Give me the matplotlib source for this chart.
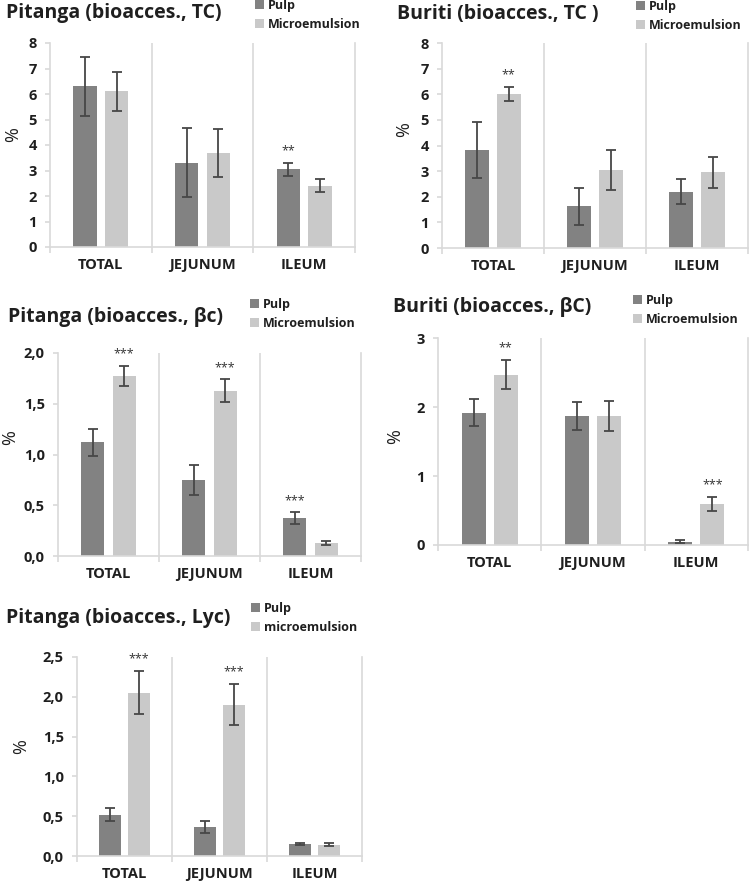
import matplotlib
import numpy as np

matplotlib.use("Agg")
import matplotlib.pyplot as plt  # noqa: E402
from matplotlib.ticker import FuncFormatter, MultipleLocator  # noqa: E402

plt.rcParams["font.family"] = ["Open Sans", "DejaVu Sans"]
plt.rcParams["font.weight"] = "bold"

categories = ["TOTAL", "JEJUNUM", "ILEUM"]

# Pitanga, total carotenoids
pit_tc_pulp = [6.3, 3.3, 3.05]
pit_tc_pulp_err = [1.17, 1.35, 0.25]
pit_tc_micro = [6.1, 3.68, 2.4]
pit_tc_micro_err = [0.75, 0.95, 0.25]
pit_tc_stars_pulp = ["", "", "**"]
pit_tc_stars_micro = ["", "", ""]

# Buriti, total carotenoids
bur_tc_pulp = [3.82, 1.62, 2.2]
bur_tc_pulp_err = [1.09, 0.74, 0.49]
bur_tc_micro = [6.0, 3.05, 2.95]
bur_tc_micro_err = [0.27, 0.77, 0.6]
bur_tc_stars_pulp = ["", "", ""]
bur_tc_stars_micro = ["**", "", ""]

# Pitanga, beta-carotene
pit_bc_pulp = [1.12, 0.75, 0.375]
pit_bc_pulp_err = [0.13, 0.15, 0.055]
pit_bc_micro = [1.77, 1.63, 0.13]
pit_bc_micro_err = [0.10, 0.11, 0.02]
pit_bc_stars_pulp = ["", "", "***"]
pit_bc_stars_micro = ["***", "***", ""]

# Buriti, beta-carotene
bur_bc_pulp = [1.92, 1.87, 0.05]
bur_bc_pulp_err = [0.2, 0.2, 0.02]
bur_bc_micro = [2.47, 1.87, 0.6]
bur_bc_micro_err = [0.21, 0.22, 0.1]
bur_bc_stars_pulp = ["", "", ""]
bur_bc_stars_micro = ["**", "", "***"]

# Pitanga, lycopene
pit_lyc_pulp = [0.52, 0.37, 0.15]
pit_lyc_pulp_err = [0.085, 0.075, 0.01]
pit_lyc_micro = [2.05, 1.9, 0.14]
pit_lyc_micro_err = [0.27, 0.26, 0.02]
pit_lyc_stars_pulp = ["", "", ""]
pit_lyc_stars_micro = ["***", "***", ""]

FARBE_PULP = "#828282"
FARBE_MICRO = "#c9c9c9"
FARBE_FEHLER = "#474747"
FARBE_LINIE = "#d9d9d9"
FARBE_TEXT = "#1f1f1f"

B, H = 750, 883
fig = plt.figure(figsize=(B / 100, H / 100), dpi=100)


def komma(wert, _pos):
    return f"{wert:.1f}".replace(".", ",")


def panel(box, titel, titel_xy, leg_xy, leg_micro, ylabel_xy,
          pulp, pulp_err, micro, micro_err, stars_p, stars_m,
          ymax, schritt, dezimal):
    x0, y0, x1, y1 = box
    ax = fig.add_axes([x0 / B, 1 - y1 / H, (x1 - x0) / B, (y1 - y0) / H])
    x = np.arange(len(categories))
    breite, versatz = 0.23, 0.155
    fehler = dict(ecolor=FARBE_FEHLER, elinewidth=1.3, capsize=3.5, capthick=1.3)
    bp = ax.bar(x - versatz, pulp, breite, yerr=pulp_err, color=FARBE_PULP,
                error_kw=fehler, label="Pulp")
    bm = ax.bar(x + versatz, micro, breite, yerr=micro_err, color=FARBE_MICRO,
                error_kw=fehler, label=leg_micro)

    # Signifikanzsterne ueber den Fehlerbalken
    for xs, werte, err, sterne in [(x - versatz, pulp, pulp_err, stars_p),
                                   (x + versatz, micro, micro_err, stars_m)]:
        for xi, w, e, s in zip(xs, werte, err, sterne):
            if s:
                ax.annotate(s, (xi, w + e), textcoords="offset points",
                            xytext=(0, 4), ha="center", va="bottom",
                            fontsize=9, fontweight="normal", color="#333333")

    ax.set_xlim(-0.5, 2.5)
    ax.set_ylim(0, ymax)
    ax.yaxis.set_major_locator(MultipleLocator(schritt))
    if dezimal:
        ax.yaxis.set_major_formatter(FuncFormatter(komma))
    for grenze in [0.5, 1.5]:
        ax.axvline(grenze, color=FARBE_LINIE, linewidth=1.2, zorder=0)

    ax.set_xticks(x)
    ax.set_xticklabels(categories, fontsize=10.5)
    ax.set_xticks([-0.5, 0.5, 1.5, 2.5], minor=True)
    ax.tick_params(axis="x", which="major", length=0, pad=8,
                   labelcolor=FARBE_TEXT)
    ax.tick_params(axis="x", which="minor", length=4, color=FARBE_LINIE, width=1.2)
    ax.tick_params(axis="y", length=3.5, color=FARBE_LINIE, width=1.2,
                   labelsize=10.5, pad=6, labelcolor=FARBE_TEXT)
    for seite in ["left", "bottom", "right"]:
        ax.spines[seite].set_color(FARBE_LINIE)
        ax.spines[seite].set_linewidth(1.2)
    ax.spines["top"].set_visible(False)

    ax.set_ylabel("%", fontsize=13, color=FARBE_TEXT)
    ax.yaxis.set_label_coords(ylabel_xy[0] / B, 1 - ylabel_xy[1] / H,
                              transform=fig.transFigure)

    fig.text(titel_xy[0] / B, 1 - titel_xy[1] / H, titel, fontsize=14,
             ha="left", va="center", color=FARBE_TEXT)
    ax.legend(handles=[bp, bm], loc="upper left", frameon=False,
              bbox_to_anchor=(leg_xy[0] / B, 1 - leg_xy[1] / H),
              bbox_transform=fig.transFigure, borderpad=0, borderaxespad=0,
              handlelength=0.7, handleheight=0.7, handletextpad=0.35,
              labelspacing=0.45, fontsize=9, labelcolor=FARBE_TEXT)
    return ax


panel((50, 43, 355, 247), "Pitanga (bioacces., TC)", (6, 13), (255, -1),
      "Microemulsion", (22, 135),
      pit_tc_pulp, pit_tc_pulp_err, pit_tc_micro, pit_tc_micro_err,
      pit_tc_stars_pulp, pit_tc_stars_micro, 8, 1, False)
panel((442, 43, 748, 248), "Buriti (bioacces., TC )", (397, 14), (636, 0),
      "Microemulsion", (413, 130),
      bur_tc_pulp, bur_tc_pulp_err, bur_tc_micro, bur_tc_micro_err,
      bur_tc_stars_pulp, bur_tc_stars_micro, 8, 1, False)
panel((58, 353, 361, 556), "Pitanga (bioacces., βc)", (8, 317), (250, 298),
      "Microemulsion", (19, 438),
      pit_bc_pulp, pit_bc_pulp_err, pit_bc_micro, pit_bc_micro_err,
      pit_bc_stars_pulp, pit_bc_stars_micro, 2.0, 0.5, True)
panel((438, 338, 748, 545), "Buriti (bioacces., βC)", (393, 307), (633, 294),
      "Microemulsion", (404, 437),
      bur_bc_pulp, bur_bc_pulp_err, bur_bc_micro, bur_bc_micro_err,
      bur_bc_stars_pulp, bur_bc_stars_micro, 3, 1, False)
panel((77, 657, 362, 856), "Pitanga (bioacces., Lyc)", (6, 618), (251, 602),
      "microemulsion", (30, 747),
      pit_lyc_pulp, pit_lyc_pulp_err, pit_lyc_micro, pit_lyc_micro_err,
      pit_lyc_stars_pulp, pit_lyc_stars_micro, 2.5, 0.5, True)

fig.savefig("out.png", dpi=100)
